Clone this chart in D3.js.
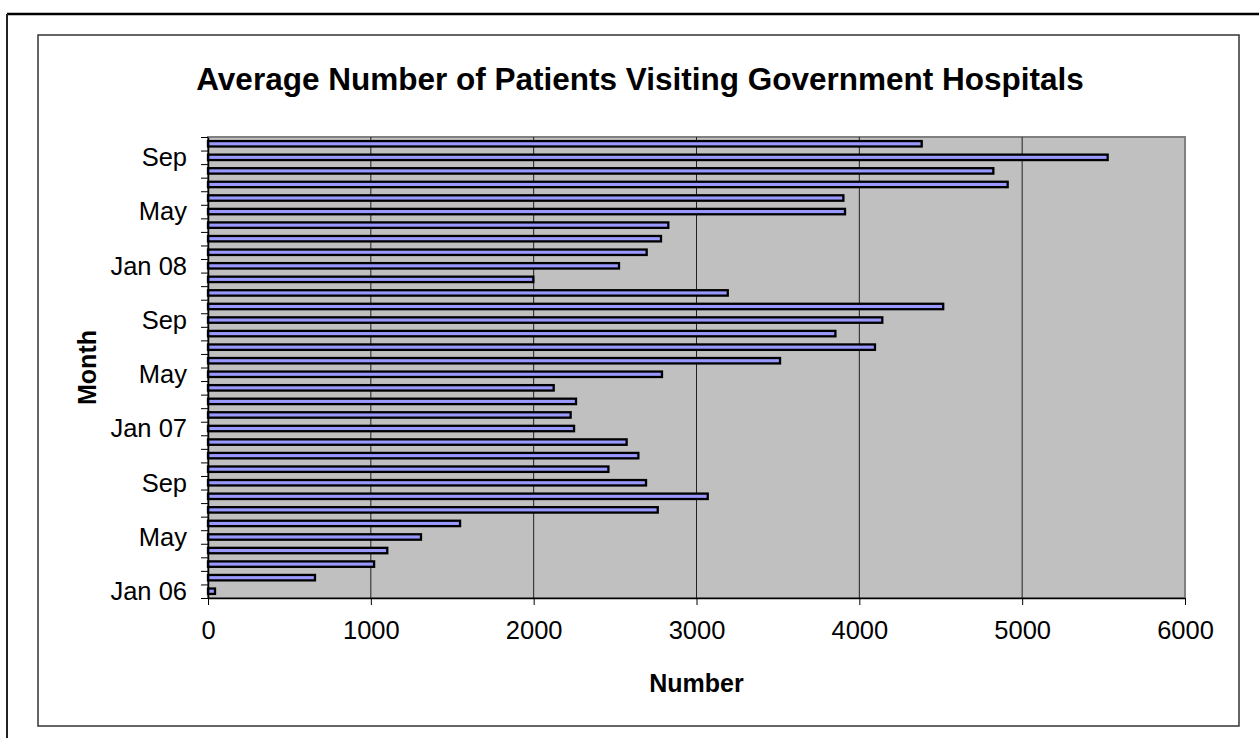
<!DOCTYPE html>
<html>
<head>
<meta charset="utf-8">
<script src="https://cdn.jsdelivr.net/npm/d3@7/dist/d3.min.js"></script>
<style>
  html, body { margin: 0; padding: 0; background: #fff; }
  svg { display: block; font-family: Arial, "Liberation Sans", sans-serif; }
</style>
</head>
<body>
<div id="chart"></div>
<script>
(function() {
    'use strict';

    // Months Jan 06 .. Oct 08, bottom to top
    var months = [
        'Jan 06', 'Feb 06', 'Mar 06', 'Apr 06', 'May 06', 'Jun 06', 'Jul 06', 'Aug 06', 'Sep 06', 'Oct 06', 'Nov 06', 'Dec 06',
        'Jan 07', 'Feb 07', 'Mar 07', 'Apr 07', 'May 07', 'Jun 07', 'Jul 07', 'Aug 07', 'Sep 07', 'Oct 07', 'Nov 07', 'Dec 07',
        'Jan 08', 'Feb 08', 'Mar 08', 'Apr 08', 'May 08', 'Jun 08', 'Jul 08', 'Aug 08', 'Sep 08', 'Oct 08'
    ];
    var patients = [
        43, 657, 1020, 1101, 1308, 1548, 2762, 3069, 2690, 2459, 2643, 2571,
        2248, 2227, 2260, 2123, 2788, 3513, 4096, 3853, 4141, 4515, 3192, 1998,
        2524, 2694, 2782, 2827, 3912, 3902, 4911, 4823, 5525, 4383
    ];
    // shown month labels (every 4th month)
    var monthLabels = ['Jan 06', 'May', 'Sep', 'Jan 07', 'May', 'Sep', 'Jan 08', 'May', 'Sep'];
    var xTicks = [0, 1000, 2000, 3000, 4000, 5000, 6000];

    var W = 1259, H = 738;
    var plot = { left: 208, right: 1185, top: 137, bottom: 598 };

    var svg = d3.select('#chart').append('svg')
        .attr('width', W)
        .attr('height', H);

    // outer frame (top + left only)
    svg.append('line').attr('x1', 7).attr('x2', W).attr('y1', 14).attr('y2', 14)
        .attr('stroke', '#000').attr('stroke-width', 2.5);
    svg.append('line').attr('x1', 7).attr('x2', 7).attr('y1', 14).attr('y2', H)
        .attr('stroke', '#222').attr('stroke-width', 2);

    // chart border
    svg.append('rect')
        .attr('x', 38).attr('y', 35).attr('width', 1239 - 38).attr('height', 726 - 35)
        .attr('fill', '#fff').attr('stroke', '#333').attr('stroke-width', 1.5);

    var x = d3.scaleLinear().domain([0, 6000]).range([plot.left, plot.right]);
    var y = d3.scaleBand().domain(d3.range(months.length))
        .range([plot.bottom, plot.top]).paddingInner(0).paddingOuter(0);
    var yIdx = d3.scaleLinear().domain([0, months.length]).range([plot.bottom, plot.top]);

    // plot area
    svg.append('rect')
        .attr('x', plot.left).attr('y', plot.top)
        .attr('width', plot.right - plot.left).attr('height', plot.bottom - plot.top)
        .attr('fill', '#c0c0c0').attr('stroke', '#808080').attr('stroke-width', 2);

    // vertical gridlines
    svg.append('g').selectAll('line')
        .data(xTicks.slice(1, -1))
        .join('line')
        .attr('x1', function(d) { return x(d); })
        .attr('x2', function(d) { return x(d); })
        .attr('y1', plot.top).attr('y2', plot.bottom)
        .attr('stroke', '#222').attr('stroke-width', 1);

    // bars
    var barH = y.bandwidth() * 0.4;
    svg.append('g').selectAll('rect')
        .data(patients)
        .join('rect')
        .attr('x', x(0))
        .attr('y', function(d, i) { return y(i) + (y.bandwidth() - barH) / 2; })
        .attr('width', function(d) { return x(d) - x(0); })
        .attr('height', barH)
        .attr('fill', '#9999ff')
        .attr('stroke', '#000')
        .attr('stroke-width', 2.3);

    // x axis
    var xAxis = svg.append('g')
        .attr('transform', 'translate(0,' + plot.bottom + ')')
        .call(d3.axisBottom(x).tickValues(xTicks).tickSize(7).tickSizeOuter(0).tickPadding(16)
            .tickFormat(d3.format('d')));
    xAxis.select('.domain').attr('stroke', '#000').attr('stroke-width', 1.5);
    xAxis.selectAll('.tick line').attr('stroke', '#000');
    xAxis.selectAll('text').attr('font-size', '25.5px').attr('fill', '#000')
        .attr('font-family', 'Arial, "Liberation Sans", sans-serif');

    // y axis: tick marks at month boundaries
    var yAxis = svg.append('g')
        .attr('transform', 'translate(' + plot.left + ',0)')
        .call(d3.axisLeft(yIdx).tickValues(d3.range(months.length + 1)).tickSize(7).tickSizeOuter(0)
            .tickFormat(''));
    yAxis.select('.domain').attr('stroke', '#000').attr('stroke-width', 1.5);
    yAxis.selectAll('.tick line').attr('stroke', '#000');

    // y labels, every 4th month, centered in band
    svg.append('g').selectAll('text')
        .data(monthLabels)
        .join('text')
        .attr('x', 187)
        .attr('y', function(d, i) { return y(i * 4) + y.bandwidth() / 2; })
        .attr('dy', '0.35em')
        .attr('text-anchor', 'end')
        .attr('font-size', '25.5px')
        .attr('fill', '#000')
        .text(function(d) { return d; });

    // title
    svg.append('text')
        .attr('x', 640).attr('y', 90)
        .attr('text-anchor', 'middle')
        .attr('font-size', '31.5px')
        .attr('font-weight', 'bold')
        .text('Average Number of Patients Visiting Government Hospitals');

    // axis titles
    svg.append('text')
        .attr('x', (plot.left + plot.right) / 2).attr('y', 692)
        .attr('text-anchor', 'middle')
        .attr('font-size', '25px')
        .attr('font-weight', 'bold')
        .text('Number');

    svg.append('text')
        .attr('transform', 'translate(96,' + ((plot.top + plot.bottom) / 2) + ') rotate(-90)')
        .attr('text-anchor', 'middle')
        .attr('font-size', '25px')
        .attr('font-weight', 'bold')
        .text('Month');
})();
</script>
</body>
</html>
